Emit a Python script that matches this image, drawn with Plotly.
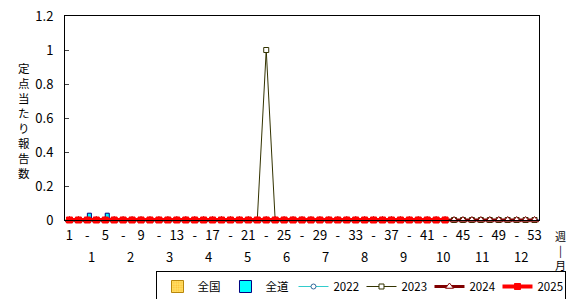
import plotly.graph_objects as go

weeks = list(range(1, 54))
zenkoku = [0.0] * 53
zendo = [0.0] * 53
zendo[2] = 0.04
zendo[4] = 0.04
y2022 = [None] * 53
y2023 = [0.0] * 53
y2023[22] = 1.0
y2024 = [0.0] * 53
y2025 = [0.0] * 43 + [None] * 10
week_ticks = list(range(1, 54, 2))
week_text = [str(w) if (i % 2 == 0) else "-" for i, w in enumerate(week_ticks)]
month_labels = [str(m) for m in range(1, 13)]

FONT = "Noto Sans CJK JP, sans-serif"

fig = go.Figure()
fig.add_trace(go.Bar(x=weeks, y=zenkoku, name="全国",
                     marker=dict(color="#FFD700", line=dict(color="#B8860B", width=1),
                                 pattern=dict(shape=".", fgcolor="#FF9900", bgcolor="#FFE066", size=3, solidity=0.4))))
fig.add_trace(go.Bar(x=weeks, y=zendo, name="全道",
                     marker=dict(color="#00FFFF", line=dict(color="#000080", width=1))))
fig.add_trace(go.Scatter(x=weeks, y=y2022, name="2022", mode="lines+markers",
                         line=dict(color="#33CCCC", width=1),
                         marker=dict(symbol="circle", size=5, color="white", line=dict(color="#336699", width=1)),
                         cliponaxis=False))
fig.add_trace(go.Scatter(x=weeks, y=y2023, name="2023", mode="lines+markers",
                         line=dict(color="#333300", width=1),
                         marker=dict(symbol="square", size=5, color="white", line=dict(color="#333300", width=1)),
                         cliponaxis=False))
fig.add_trace(go.Scatter(x=weeks, y=y2024, name="2024", mode="lines+markers",
                         line=dict(color="#800000", width=3),
                         marker=dict(symbol="triangle-up", size=7, color="white", line=dict(color="#800000", width=1)),
                         cliponaxis=False))
fig.add_trace(go.Scatter(x=weeks, y=y2025, name="2025", mode="lines+markers",
                         line=dict(color="#FF0000", width=4),
                         marker=dict(symbol="square", size=6, color="#FF0000", line=dict(color="#FF0000", width=1)),
                         cliponaxis=False))

annotations = []
for i, lab in enumerate(month_labels):
    annotations.append(dict(x=3.5 + i * 4.36, y=-0.181, xref="x", yref="paper", text=lab,
                            yanchor="middle", showarrow=False, font=dict(size=13, color="black", family=FONT)))
annotations.append(dict(x=-0.086, y=0.49, xref="paper", yref="paper", xanchor="center", yanchor="middle",
                        text="定<br>点<br>当<br>た<br>り<br>報<br>告<br>数",
                        showarrow=False, font=dict(size=11.5, color="black", family=FONT)))
annotations.append(dict(x=1.046, y=-0.148, xref="paper", yref="paper", text="週<br>|<br>月",
                        xanchor="center", yanchor="middle",
                        showarrow=False, font=dict(size=11, color="black", family=FONT)))

fig.update_layout(
    width=579, height=299,
    margin=dict(l=65, r=40, t=16, b=79, autoexpand=False),
    paper_bgcolor="white", plot_bgcolor="white",
    font=dict(family=FONT, size=13, color="black"),
    barmode="group", bargap=0.1, bargroupgap=0,
    showlegend=True,
    legend=dict(orientation="h", x=1.058, xanchor="right", y=-0.25, yanchor="top",
                bordercolor="black", borderwidth=1, font=dict(size=11.5, family=FONT),
                itemwidth=30, tracegroupgap=0, entrywidth=23, entrywidthmode="pixels"),
    annotations=annotations,
)
fig.update_xaxes(range=[0.5, 53.5], tickmode="array", tickvals=week_ticks, ticktext=week_text,
                 showline=True, linecolor="black", linewidth=1, mirror=True, ticks="", showgrid=False,
                 tickfont=dict(size=13), zeroline=False, ticklabelstandoff=3)
fig.update_yaxes(range=[0, 1.2], dtick=0.2, tickformat="~g", showline=True, linecolor="black", linewidth=1,
                 mirror=True, ticks="inside", ticklen=4, showgrid=False, zeroline=False, tickfont=dict(size=13),
                 ticklabelstandoff=8)

fig.write_html("out.html")
